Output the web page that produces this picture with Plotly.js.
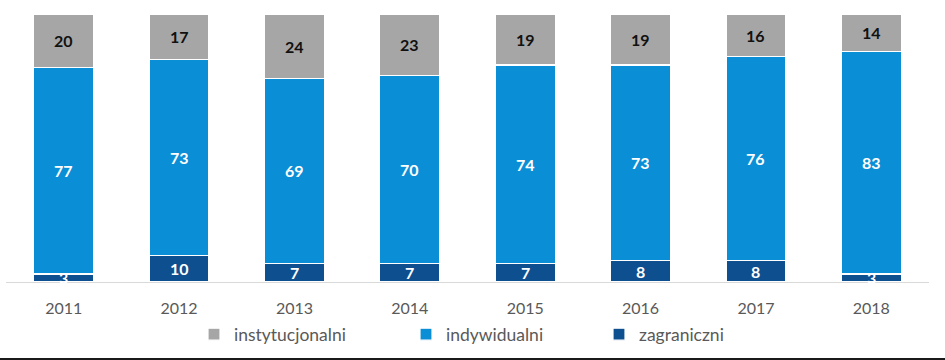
<!DOCTYPE html>
<html>
<head>
<meta charset="utf-8">
<script src="https://cdn.plot.ly/plotly-3.0.1.min.js"></script>
<style>
  html, body { margin: 0; padding: 0; background: #fff; }
  #chart { width: 945px; height: 358px; border-bottom: 2px solid #1a1a1a; }
</style>
</head>
<body>
<div id="chart"></div>
<script>
const years = ['2011', '2012', '2013', '2014', '2015', '2016', '2017', '2018'];
const zagraniczni = [3, 10, 7, 7, 7, 8, 8, 3];
const indywidualni = [77, 73, 69, 70, 74, 73, 76, 83];
const instytucjonalni = [20, 17, 24, 23, 19, 19, 16, 14];

const FONT = 'Lato, "Open Sans", sans-serif';
const series = [
  { name: 'zagraniczni', values: zagraniczni, color: '#0E4F90', text: '#ffffff', legend: 'legend3' },
  { name: 'indywidualni', values: indywidualni, color: '#0A8ED6', text: '#ffffff', legend: 'legend2' },
  { name: 'instytucjonalni', values: instytucjonalni, color: '#A6A6A6', text: '#111111', legend: 'legend' }
];

const traces = series.map(s => ({
  type: 'bar',
  name: s.name,
  x: years,
  y: s.values,
  legend: s.legend,
  marker: { color: s.color, line: { color: '#ffffff', width: 1.2 } },
  hoverinfo: 'x+y+name'
}));

// data labels via annotations; x is the category index so numeric-looking years are not misread
const annotations = [];
const base = years.map(() => 0);
series.forEach(s => {
  s.values.forEach((v, i) => {
    annotations.push({
      x: i, y: base[i] + v / 2, xref: 'x', yref: 'y',
      text: '<b>' + v + '</b>', showarrow: false,
      font: { family: FONT, size: 16, color: s.text }
    });
    base[i] += v;
  });
});

const plotL = 6, plotR = 16, W = 945;
const pw = W - plotL - plotR;
const lx = px => (px - plotL) / pw;
const legendCommon = {
  orientation: 'h', yanchor: 'middle', y: -0.195, xanchor: 'left',
  font: { family: FONT, size: 17.5, color: '#595959' },
  bgcolor: 'rgba(0,0,0,0)', borderwidth: 0
};

const layout = {
  width: 945, height: 358,
  margin: { l: plotL, r: plotR, t: 14, b: 71 },
  paper_bgcolor: '#ffffff', plot_bgcolor: '#ffffff',
  barmode: 'stack', bargap: 0.48,
  font: { family: FONT },
  xaxis: {
    type: 'category', range: [-0.5, years.length - 0.5],
    showgrid: false, zeroline: false,
    showline: true, linecolor: '#D9D9D9', linewidth: 1,
    ticks: '', ticklabelstandoff: 12,
    tickfont: { family: FONT, size: 16, color: '#595959' }
  },
  yaxis: { range: [0, 100], visible: false, showgrid: false, zeroline: false, fixedrange: true },
  showlegend: true,
  legend: Object.assign({}, legendCommon, { x: lx(194) }),
  legend2: Object.assign({}, legendCommon, { x: lx(406) }),
  legend3: Object.assign({}, legendCommon, { x: lx(599) }),
  annotations: annotations
};

Plotly.newPlot('chart', traces, layout, { displayModeBar: false, staticPlot: true });
</script>
</body>
</html>
